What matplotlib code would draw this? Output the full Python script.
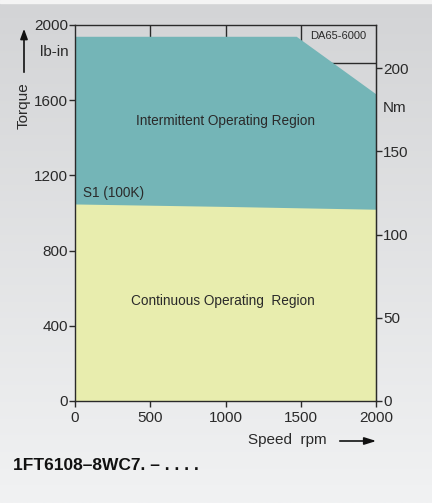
import numpy as np
import matplotlib.pyplot as plt
from matplotlib.patches import Rectangle

# characteristic curve data (speed in rpm, torque in lb-in)
speed_intermittent = [0, 1470, 2000]
torque_intermittent = [1940, 1940, 1633]
speed_s1 = [0, 1000, 2000]
torque_s1 = [1048, 1035, 1020]

x_ticks = [0, 500, 1000, 1500, 2000]
y_ticks = [0, 400, 800, 1200, 1600, 2000]
nm_ticks = [0, 50, 100, 150, 200]
grid_speeds = [500, 1000, 1500]
grid_torque = [1800]

LB_IN_PER_NM = 8.8507

TEAL = '#74b5b7'
YELLOW = '#e8edae'
DARK = '#2a2a2a'

plt.rcParams['font.family'] = ['Liberation Sans', 'DejaVu Sans']


def main():
    fig = plt.figure(figsize=(4.32, 5.03), dpi=100)

    # gradient background
    bg = fig.add_axes([0, 0, 1, 1], zorder=-10)
    grad = np.linspace(0, 1, 256).reshape(-1, 1)
    bg.imshow(grad, aspect='auto', cmap=plt.matplotlib.colors.LinearSegmentedColormap.from_list(
        'bg', ['#d3d4d6', '#f1f2f3']), extent=[0, 1, 0, 1], origin='upper')
    bg.add_patch(Rectangle((0, 0.994), 1, 0.006, color='#f4f4f4'))
    bg.set_xlim(0, 1)
    bg.set_ylim(0, 1)
    bg.axis('off')

    ax = fig.add_axes([0.1736, 0.2028, 0.6968, 0.7475])
    ax.set_facecolor('none')
    ax.set_xlim(0, 2000)
    ax.set_ylim(0, 2000)

    for s in grid_speeds:
        ax.axvline(s, color=DARK, lw=1.0, zorder=1)
    for t in grid_torque:
        ax.axhline(t, color=DARK, lw=1.0, zorder=1)

    ax.fill_between(speed_intermittent, torque_intermittent, 0, color=TEAL, lw=0, zorder=2)
    ax.fill_between(speed_s1, torque_s1, 0, color=YELLOW, lw=0, zorder=3)

    for sp in ax.spines.values():
        sp.set_color(DARK)
        sp.set_linewidth(1.0)
        sp.set_zorder(5)

    ax.set_xticks(x_ticks)
    ax.set_yticks(y_ticks)
    ax.set_yticks(np.arange(200, 2000, 400), minor=True)
    ax.tick_params(axis='both', which='major', direction='out', length=4, width=1,
                   color=DARK, labelcolor=DARK, labelsize=11, pad=1)
    ax.tick_params(axis='x', which='major', pad=3)
    ax.tick_params(axis='y', which='minor', direction='in', length=2, width=0.8, color=DARK)

    ax2 = ax.twinx()
    ax2.set_ylim(0, 2000 / LB_IN_PER_NM)
    ax2.set_yticks(nm_ticks)
    ax2.spines['right'].set_color(DARK)
    ax2.spines['left'].set_visible(False)
    ax2.spines['top'].set_visible(False)
    ax2.spines['bottom'].set_visible(False)
    ax2.tick_params(axis='y', direction='out', length=4, width=1, color=DARK,
                    labelcolor=DARK, labelsize=11, pad=1)

    ax.text(1000, 1490, 'Intermittent Operating Region', ha='center', va='center',
            fontsize=9.8, color=DARK, zorder=6)
    ax.text(980, 532, 'Continuous Operating  Region', ha='center', va='center',
            fontsize=9.8, color=DARK, zorder=6)
    ax.text(50, 1106, 'S1 (100K)', ha='left', va='center', fontsize=9.8, color=DARK, zorder=6)
    ax.text(1750, 1940, 'DA65-6000', ha='center', va='center', fontsize=8, color=DARK, zorder=6)

    # axis labels placed in figure pixels
    W, H = 432, 503
    fig.text(54 / W, 1 - 52 / H, 'lb-in', ha='center', va='center', fontsize=11, color=DARK)
    fig.text(24 / W, 1 - 106 / H, 'Torque', ha='center', va='center', rotation=90,
             fontsize=11, color=DARK)
    fig.add_artist(plt.matplotlib.patches.FancyArrowPatch(
        (24 / W, 1 - 75 / H), (24 / W, 1 - 26 / H), transform=fig.transFigure,
        arrowstyle='-|>,head_length=6,head_width=2.2', color='#111111', lw=1.2))
    fig.text(395 / W, 1 - 108 / H, 'Nm', ha='center', va='center', fontsize=11, color=DARK)
    fig.text(287 / W, 1 - 440 / H, 'Speed  rpm', ha='center', va='center', fontsize=11,
             color=DARK)
    fig.add_artist(plt.matplotlib.patches.FancyArrowPatch(
        (337 / W, 1 - 441 / H), (379 / W, 1 - 441 / H), transform=fig.transFigure,
        arrowstyle='-|>,head_length=7,head_width=2.2', color='#111111', lw=1.2))
    fig.text(13 / W, 1 - 465 / H, '1FT6108\u20138WC7. \u2013 . . . .', ha='left', va='center',
             fontsize=12.5, fontweight='bold', color='#111111')

    fig.savefig('out.png', dpi=100)


if __name__ == '__main__':
    main()
